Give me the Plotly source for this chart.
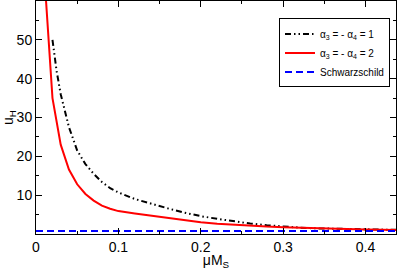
import plotly.graph_objects as go

x_a1 = [0.02, 0.025, 0.03, 0.04, 0.05, 0.06, 0.07, 0.08, 0.09, 0.10, 0.12, 0.14, 0.16, 0.18,
        0.20, 0.22, 0.24, 0.26, 0.28, 0.30, 0.32, 0.34, 0.36, 0.38, 0.40, 0.42, 0.44]
u_a1 = [50, 42, 36, 27.5, 21.5, 18, 15.5, 13.4, 11.8, 10.7, 9.0, 7.7, 6.6, 5.5,
        4.6, 3.9, 3.25, 2.7, 2.25, 1.9, 1.65, 1.45, 1.35, 1.25, 1.17, 1.1, 1.05]

x_a2 = [0.01, 0.02, 0.03, 0.04, 0.05, 0.06, 0.07, 0.08, 0.09, 0.10, 0.12, 0.14, 0.16, 0.18,
        0.20, 0.22, 0.24, 0.26, 0.28, 0.30, 0.32, 0.34, 0.36, 0.38, 0.40, 0.42, 0.44]
u_a2 = [67, 35, 23, 16.6, 12.8, 10.3, 8.6, 7.3, 6.5, 5.9, 5.3, 4.7, 4.1, 3.5,
        3.0, 2.65, 2.35, 2.1, 1.9, 1.75, 1.6, 1.45, 1.35, 1.25, 1.17, 1.1, 1.05]

x_s = [0.0, 0.44]
u_s = [0.8, 0.8]

names = ["α<sub>3</sub> = - α<sub>4</sub> = 1", "α<sub>3</sub> = - α<sub>4</sub> = 2", "Schwarzschild"]
x_ticks = [0, 0.1, 0.2, 0.3, 0.4]
x_ticktext = ["0", "0.1", "0.2", "0.3", "0.4"]
y_ticks = [10, 20, 30, 40, 50]

FONT = "Liberation Sans, Arial, sans-serif"

fig = go.Figure()
fig.add_trace(go.Scatter(x=x_a1, y=u_a1, mode="lines", name=names[0],
                         line=dict(color="black", width=2, dash="6px,3px,1.5px,3px,1.5px,3px")))
fig.add_trace(go.Scatter(x=x_a2, y=u_a2, mode="lines", name=names[1],
                         line=dict(color="red", width=2)))
fig.add_trace(go.Scatter(x=x_s, y=u_s, mode="lines", name=names[2],
                         line=dict(color="blue", width=2, dash="7px,4px")))

axis_common = dict(showgrid=False, zeroline=False, showline=True, linecolor="black", linewidth=1,
                   mirror="allticks", ticks="inside", ticklen=6, tickcolor="black", tickwidth=1,
                   tickfont=dict(family=FONT, size=14, color="black"))

fig.update_xaxes(range=[0, 0.437], tickvals=x_ticks, ticktext=x_ticktext,
                 minor=dict(ticks="inside", ticklen=3, tickcolor="black", dtick=0.05, tick0=0, showgrid=False),
                 title=dict(text="μM<sub>S</sub>", font=dict(family=FONT, size=14, color="black"),
                            standoff=4),
                 **axis_common)
fig.update_yaxes(range=[0, 60], tickvals=y_ticks,
                 minor=dict(ticks="inside", ticklen=3, tickcolor="black", dtick=5, tick0=0, showgrid=False),
                 title=dict(text="u<sub>H</sub>", font=dict(family=FONT, size=14, color="black"),
                            standoff=2),
                 **axis_common)

fig.update_layout(
    width=398, height=270,
    margin=dict(l=36, r=2, t=1, b=36, autoexpand=False),
    plot_bgcolor="white", paper_bgcolor="white",
    showlegend=True,
    legend=dict(x=0.675, y=0.925, xanchor="left", yanchor="top",
                bgcolor="white", bordercolor="black", borderwidth=1,
                font=dict(family=FONT, size=10, color="black"),
                tracegroupgap=0, itemwidth=30),
)

fig.write_html("out.html", config={"displayModeBar": False},
               post_script="document.body.style.margin='0';document.body.style.overflow='hidden';")
